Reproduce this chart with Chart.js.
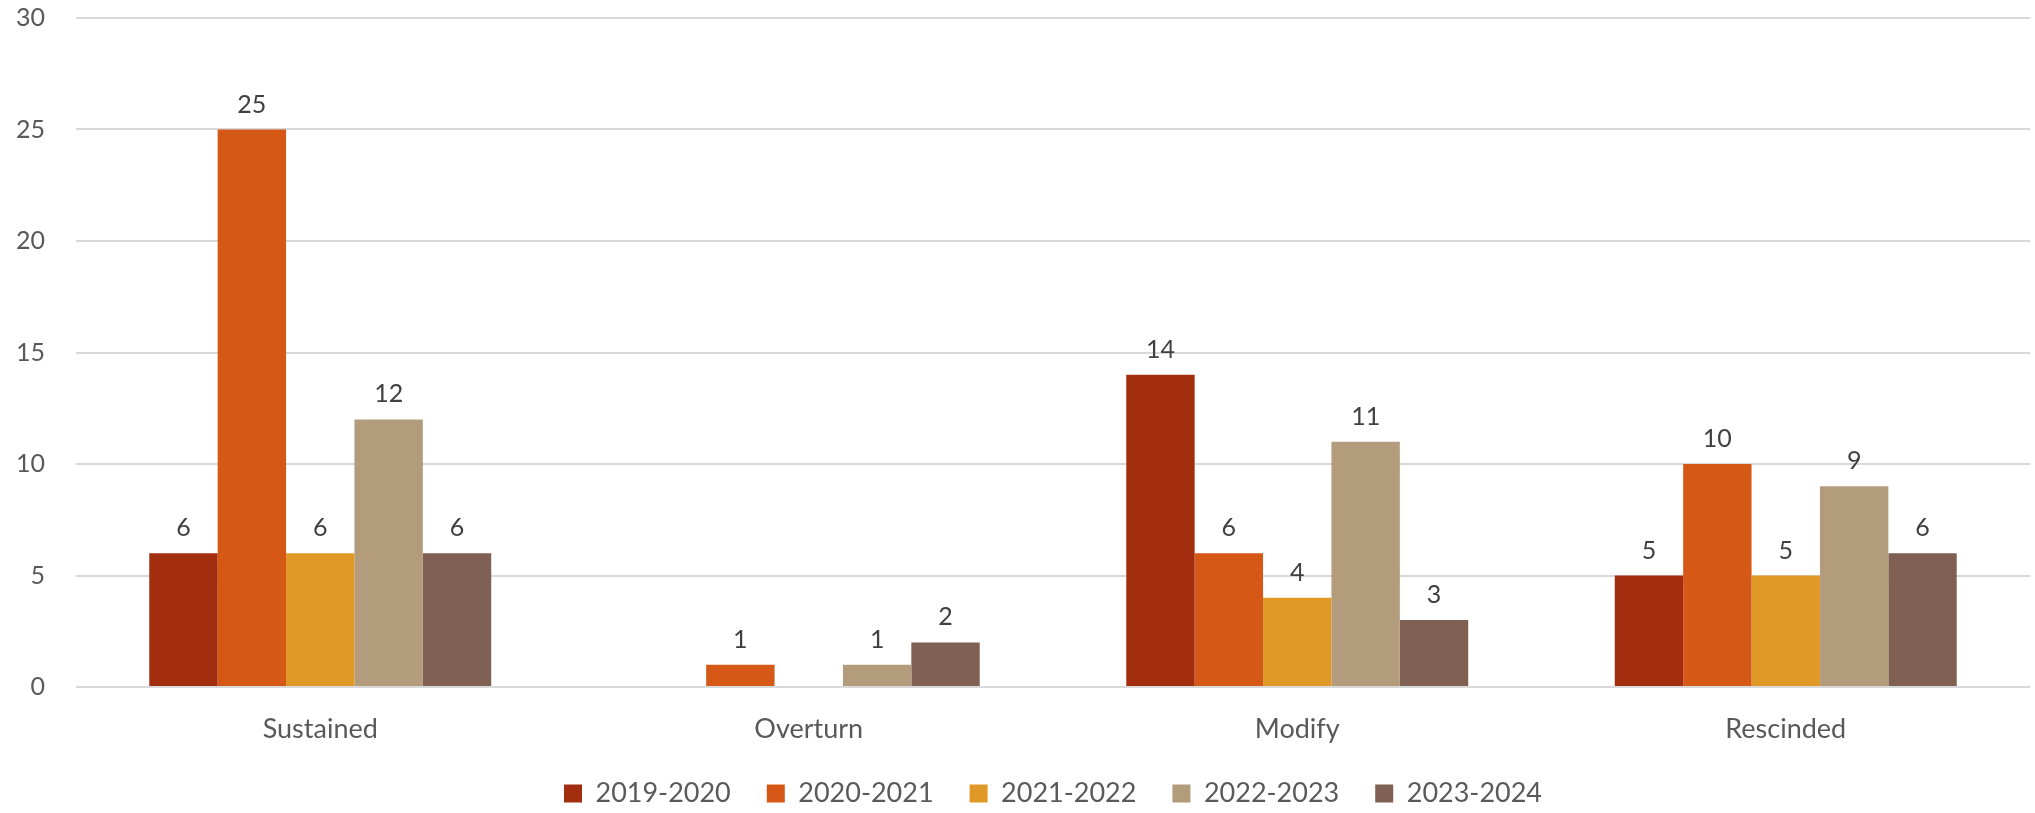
<!DOCTYPE html>
<html>
<head>
<meta charset="utf-8">
<script src="https://cdn.jsdelivr.net/npm/chart.js@4"></script>
<style>
  body { margin: 0; background: #fff; }
  #wrap { width: 2035px; height: 813px; position: relative; }
</style>
</head>
<body>
<div id="wrap"><canvas id="appealChart"></canvas></div>
<script>
const categories = ['Sustained', 'Overturn', 'Modify', 'Rescinded'];
const yearLabels = ['2019-2020', '2020-2021', '2021-2022', '2022-2023', '2023-2024'];

const y2019 = [6, null, 14, 5];
const y2020 = [25, 1, 6, 10];
const y2021 = [6, null, 4, 5];
const y2022 = [12, 1, 11, 9];
const y2023 = [6, 2, 3, 6];

const yTicks = [0, 5, 10, 15, 20, 25, 30];

const colors = ['#A32E0F', '#D55816', '#E09826', '#B39C7C', '#7F6053'];
const seriesValues = [y2019, y2020, y2021, y2022, y2023];

Chart.defaults.font.family = 'Lato, "Open Sans", sans-serif';
Chart.defaults.color = '#595959';

// draw the number above each bar
const valueLabels = {
    id: 'valueLabels',
    afterDatasetsDraw(chart) {
        const ctx = chart.ctx;
        ctx.save();
        ctx.font = '25px Lato, sans-serif';
        ctx.fillStyle = '#404040';
        ctx.textAlign = 'center';
        ctx.textBaseline = 'alphabetic';
        chart.data.datasets.forEach((ds, i) => {
            chart.getDatasetMeta(i).data.forEach((bar, j) => {
                const v = ds.data[j];
                if (v == null) return;
                ctx.fillText(String(v), bar.x, bar.y - 17);
            });
        });
        ctx.restore();
    }
};

const data = {
    labels: categories,
    datasets: yearLabels.map((label, i) => ({
        label: label,
        data: seriesValues[i],
        backgroundColor: colors[i],
        borderWidth: 0,
        categoryPercentage: 0.7,
        barPercentage: 1.0
    }))
};

const config = {
    type: 'bar',
    data: data,
    plugins: [valueLabels],
    options: {
        responsive: true,
        maintainAspectRatio: false,
        animation: false,
        layout: {
            padding: { top: 18, right: 5, left: 0, bottom: -4 }
        },
        scales: {
            x: {
                grid: { display: false },
                border: { display: false },
                afterFit: (scale) => { scale.height = 57; },
                ticks: {
                    color: '#595959',
                    font: { size: 27 },
                    padding: 18
                }
            },
            y: {
                min: 0,
                max: 30,
                afterBuildTicks: (scale) => {
                    scale.ticks = yTicks.map(v => ({ value: v }));
                },
                afterFit: (scale) => {
                    scale.width = 76;
                    scale.paddingTop = 0;
                    scale.paddingBottom = 0;
                },
                grid: {
                    color: '#D9D9D9',
                    lineWidth: 2,
                    drawTicks: false
                },
                border: { display: false },
                ticks: {
                    color: '#595959',
                    font: { size: 25 },
                    padding: 31
                }
            }
        },
        plugins: {
            legend: {
                position: 'bottom',
                fullSize: false,
                labels: {
                    color: '#595959',
                    font: { size: 27 },
                    boxWidth: 18,
                    boxHeight: 18,
                    padding: 36
                }
            },
            tooltip: { enabled: false }
        }
    }
};

const ctx = document.getElementById('appealChart').getContext('2d');
new Chart(ctx, config);
</script>
</body>
</html>
